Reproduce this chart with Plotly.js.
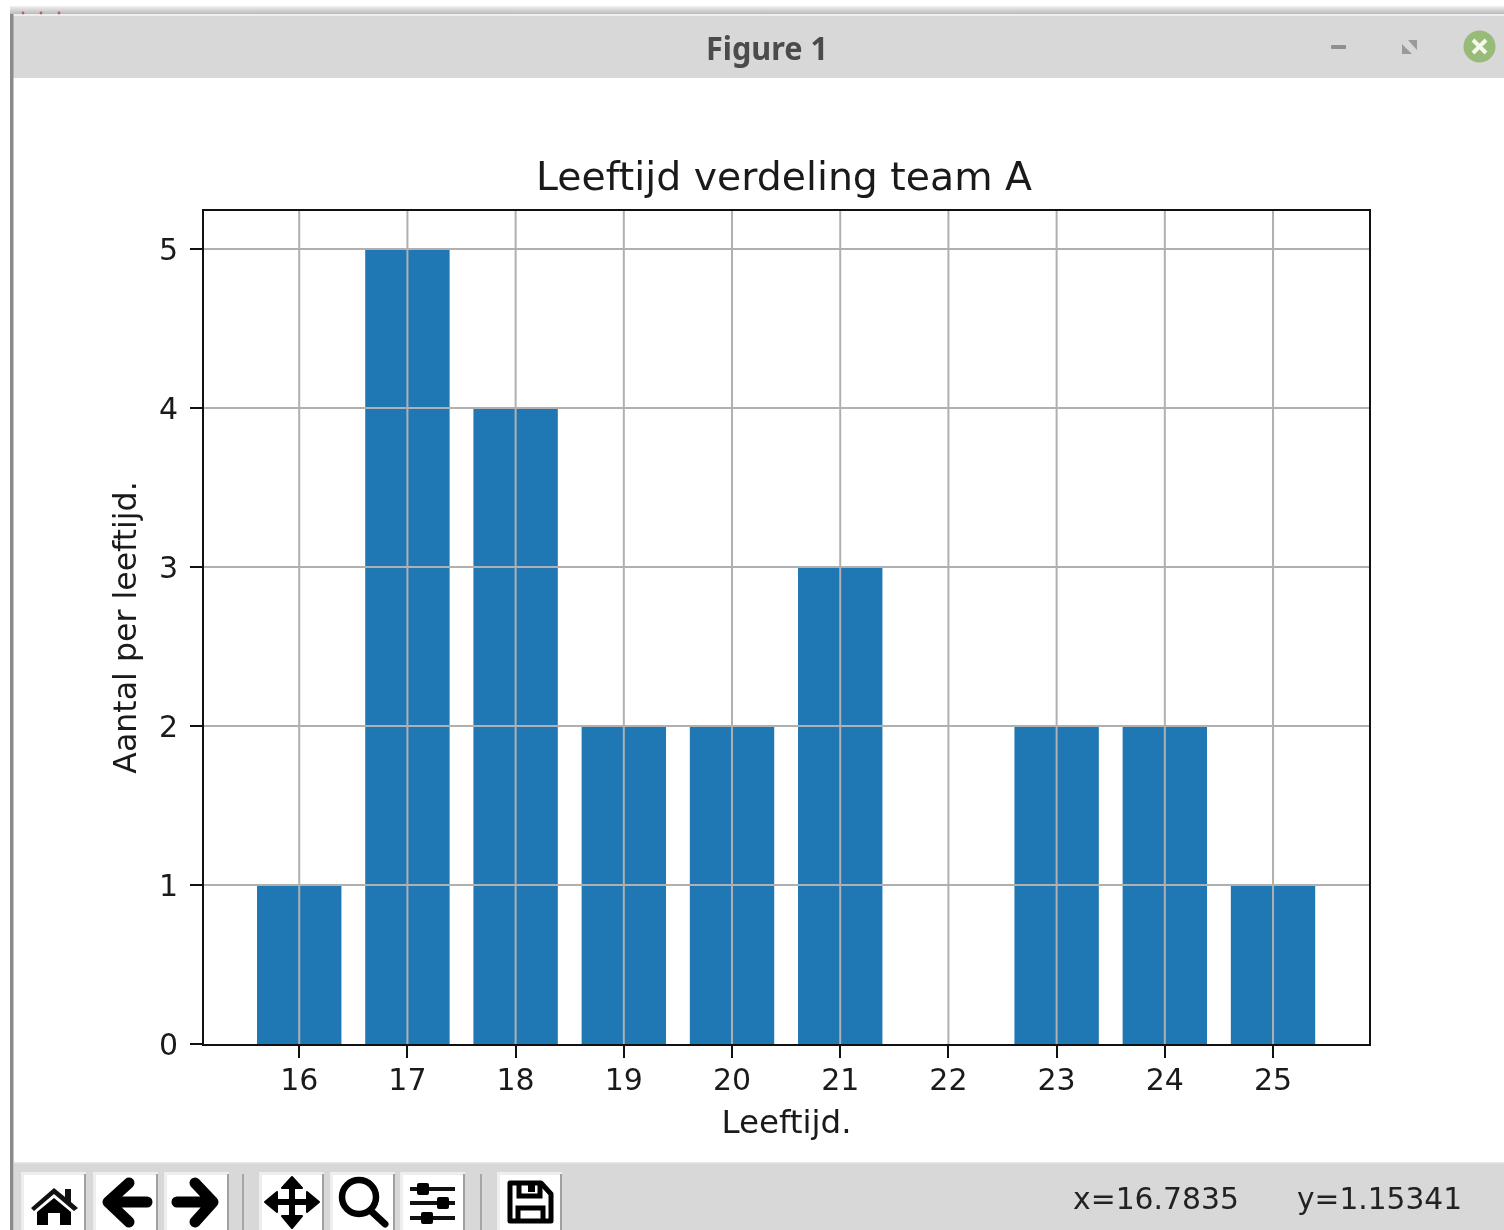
<!DOCTYPE html>
<html>
<head>
<meta charset="utf-8">
<script src="https://cdn.plot.ly/plotly-3.0.1.min.js"></script>
<style>
html,body{margin:0;padding:0;background:#fff;width:1504px;height:1230px;overflow:hidden}
#chart{position:absolute;left:0;top:0;width:1504px;height:1230px;filter:blur(0.6px)}
#chrome{position:absolute;left:0;top:0;pointer-events:none;filter:blur(0.7px)}
</style>
</head>
<body>
<div id="chart"></div>
<svg id="chrome" width="1504" height="1230" viewBox="0 0 1504 1230" xmlns="http://www.w3.org/2000/svg">
<defs>
<linearGradient id="sh" x1="0" y1="0" x2="0" y2="1"><stop offset="0" stop-color="#f0f0f0"/><stop offset="1" stop-color="#b4b4b4"/></linearGradient>
</defs>
<rect x="10" y="6" width="1494" height="9" fill="url(#sh)"/>
<rect x="10" y="15" width="1494" height="63" fill="#d8d8d8"/>
<rect x="10" y="14" width="1494" height="2" fill="#eeeeee"/>
<circle cx="23" cy="13" r="1.4" fill="#a86a5a"/><circle cx="41" cy="13" r="1.4" fill="#a86a5a"/><circle cx="59" cy="13" r="1.4" fill="#a86a5a"/>
<rect x="10" y="14" width="3.5" height="1216" fill="#8a8a8a"/>
<text x="767" y="60" text-anchor="middle" font-family="Noto Sans" font-weight="700" font-size="33" fill="#4b4b4b" textLength="122" lengthAdjust="spacingAndGlyphs">Figure 1</text>
<rect x="1331" y="45" width="15" height="4" rx="1" fill="#8f8f8f"/>
<path d="M1408 40 L1417 40 L1417 50 Z M1402 44 L1402 54 L1412 54 Z" fill="#9a9a9a"/>
<circle cx="1479.500" cy="46.500" r="16" fill="#98bb78"/>
<path d="M1473 40 L1486 53 M1486 40 L1473 53" stroke="#f4f7ee" stroke-width="4"/>
<rect x="14" y="1162" width="1490" height="68" fill="#d8d8d8"/>
<rect x="14" y="1162" width="1490" height="1.500" fill="#e6e6e6"/>
<g id="btns" fill="#ffffff" stroke="none"></g>
<rect x="242" y="1174" width="2" height="56" fill="#a6a6a6"/>
<rect x="480" y="1174" width="2" height="56" fill="#a6a6a6"/>
<!-- home -->
<path d="M31 1208 L54 1188 L65 1197 L65 1189 L71 1189 L71 1202 L78 1208 L74 1211 L54 1194 L34 1211 Z" fill="#111"/>
<path d="M37 1212 L54 1198 L71 1212 L71 1225 L60 1225 L60 1213 L48 1213 L48 1225 L37 1225 Z" fill="#000"/>
<!-- back -->
<path d="M147 1202 L116 1202 M129 1183 L108 1202 L129 1222" fill="none" stroke="#000" stroke-width="11" stroke-linecap="round" stroke-linejoin="round"/>
<!-- forward -->
<path d="M177 1202 L208 1202 M195 1183 L213 1202 L195 1222" fill="none" stroke="#000" stroke-width="11" stroke-linecap="round" stroke-linejoin="round"/>
<!-- pan -->
<path d="M292 1180 L292 1226 M268 1202 L316 1202" stroke="#000" stroke-width="6"/>
<path d="M292 1177 L302 1188 L282 1188 Z M292 1228 L302 1216 L282 1216 Z M265 1202 L277 1192 L277 1212 Z M319 1202 L307 1192 L307 1212 Z" fill="#000" stroke="#000" stroke-width="2" stroke-linejoin="round"/>
<!-- zoom -->
<circle cx="359" cy="1197" r="17" fill="none" stroke="#000" stroke-width="6.500"/>
<path d="M371 1211 L385 1224" stroke="#000" stroke-width="7" stroke-linecap="round"/>
<!-- sliders -->
<path d="M410 1189 L455 1189 M410 1203 L455 1203 M410 1218 L455 1218" stroke="#111" stroke-width="4"/>
<rect x="417" y="1183" width="12" height="12" rx="2" fill="#000"/>
<rect x="437" y="1197" width="12" height="12" rx="2" fill="#000"/>
<rect x="421" y="1212" width="12" height="12" rx="2" fill="#000"/>
<!-- save -->
<path d="M510 1183 L541 1183 L551 1194 L551 1221 L510 1221 Z" fill="none" stroke="#000" stroke-width="5" stroke-linejoin="round"/>
<path d="M519 1183 L519 1196 L540 1196 L540 1183" fill="none" stroke="#000" stroke-width="5"/>
<path d="M518 1221 L518 1208 L543 1208 L543 1221" fill="none" stroke="#000" stroke-width="5"/>
<rect x="528" y="1183" width="7" height="9" fill="#000"/>
<text x="1073" y="1209" font-family="DejaVu Sans" font-size="30" fill="#222" textLength="166" lengthAdjust="spacingAndGlyphs">x=16.7835</text>
<text x="1297" y="1209" font-family="DejaVu Sans" font-size="30" fill="#222" textLength="165" lengthAdjust="spacingAndGlyphs">y=1.15341</text>
</svg>
<script>
// Chart data
var ages = [16, 17, 18, 19, 20, 21, 22, 23, 24, 25];
var counts = [1, 5, 4, 2, 2, 3, 0, 2, 2, 1];
var yTicks = [0, 1, 2, 3, 4, 5];

// toolbar button backgrounds
var buttonLefts = [21, 93, 164, 259, 330, 400, 497];
var g = document.getElementById('btns');
buttonLefts.forEach(function (x) {
  var ns = 'http://www.w3.org/2000/svg';
  var r = document.createElementNS(ns, 'rect');
  r.setAttribute('x', x); r.setAttribute('y', 1172); r.setAttribute('width', 65); r.setAttribute('height', 58);
  r.setAttribute('fill', '#eeeeee'); g.appendChild(r);
  var i = document.createElementNS(ns, 'rect');
  i.setAttribute('x', x + 3); i.setAttribute('y', 1175); i.setAttribute('width', 60); i.setAttribute('height', 55);
  i.setAttribute('fill', '#ffffff'); g.appendChild(i);
  var e = document.createElementNS(ns, 'rect');
  e.setAttribute('x', x + 63); e.setAttribute('y', 1174); e.setAttribute('width', 2); e.setAttribute('height', 56);
  e.setAttribute('fill', '#a0a0a0'); g.appendChild(e);
});

var gridColor = '#b0b0b0';
var gridShapes = [];
ages.forEach(function (a) {
  gridShapes.push({type: 'line', xref: 'x', yref: 'paper', x0: a, x1: a, y0: 0, y1: 1, layer: 'above',
    line: {color: gridColor, width: 2}});
});
yTicks.slice(1).forEach(function (v) {
  gridShapes.push({type: 'line', xref: 'paper', yref: 'y', x0: 0, x1: 1, y0: v, y1: v, layer: 'above',
    line: {color: gridColor, width: 2}});
});

var font = {family: 'DejaVu Sans', color: '#1a1a1a'};
Plotly.newPlot('chart', [{
  type: 'bar',
  x: ages,
  y: counts,
  width: 0.78,
  marker: {color: '#1f77b4', line: {width: 0}},
  hoverinfo: 'x+y'
}], {
  width: 1504,
  height: 1230,
  autosize: false,
  showlegend: false,
  paper_bgcolor: '#ffffff',
  plot_bgcolor: '#ffffff',
  margin: {l: 204, r: 135, t: 211, b: 186, pad: 0},
  title: {
    text: 'Leeftijd verdeling team A',
    font: {family: 'DejaVu Sans', size: 39.4, color: '#1a1a1a'},
    x: 784 / 1504, xref: 'container', xanchor: 'center',
    y: 1 - 176 / 1230, yref: 'container', yanchor: 'middle'
  },
  xaxis: {
    range: [15.12, 25.887],
    tickmode: 'array',
    tickvals: ages,
    ticktext: ages.map(String),
    ticks: 'outside', ticklen: 12, tickwidth: 2, tickcolor: '#111',
    ticklabelstandoff: -4,
    tickfont: Object.assign({size: 30}, font),
    showgrid: false, zeroline: false,
    showline: true, mirror: true, linecolor: '#111', linewidth: 2,
    title: {text: 'Leeftijd.', font: Object.assign({size: 32.5}, font), standoff: 14},
    automargin: false, layer: 'above traces'
  },
  yaxis: {
    range: [0, 5.239],
    tickmode: 'array',
    tickvals: yTicks,
    ticktext: yTicks.map(String),
    ticks: 'outside', ticklen: 12, tickwidth: 2, tickcolor: '#111',
    ticklabelstandoff: 6,
    tickfont: Object.assign({size: 30}, font),
    showgrid: false, zeroline: false,
    showline: true, mirror: true, linecolor: '#111', linewidth: 2,
    title: {text: 'Aantal per leeftijd.', font: Object.assign({size: 31.6}, font), standoff: 13},
    automargin: false, layer: 'above traces'
  },
  shapes: gridShapes
}, {displayModeBar: false, staticPlot: false});
</script>
</body>
</html>
